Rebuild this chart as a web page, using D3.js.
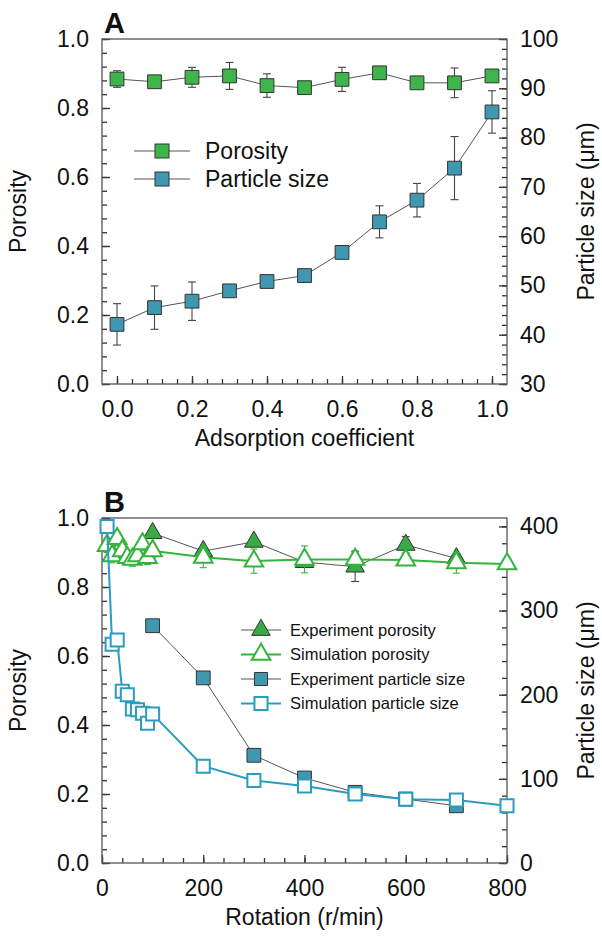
<!DOCTYPE html>
<html>
<head>
<meta charset="utf-8">
<script src="https://cdn.jsdelivr.net/npm/d3@7"></script>
<style>
  body { margin: 0; background: #fff; }
  svg text { font-family: "Liberation Sans", Arial, sans-serif; fill: #111; }
</style>
</head>
<body>
<svg id="chart" width="602" height="939"></svg>
<script>
// Panel A data
var coefA = [0, 0.1, 0.2, 0.3, 0.4, 0.5, 0.6, 0.7, 0.8, 0.9, 1.0];
var porosityA = [0.884, 0.876, 0.889, 0.893, 0.865, 0.859, 0.883, 0.902, 0.873, 0.873, 0.893];
var porosityErrA = [0.024, 0, 0.029, 0.039, 0.034, 0, 0.035, 0, 0, 0.043, 0];
var sizeA = [42.1, 45.5, 46.8, 48.9, 50.8, 52.0, 56.7, 62.9, 67.3, 73.8, 85.2];
var sizeErrA = [4.2, 4.4, 3.9, 0, 0, 0, 0, 3.25, 3.4, 6.4, 4.3];

// Panel B data
var rotExp = [100, 200, 300, 400, 500, 600, 700];
var porosityExp = [0.956, 0.904, 0.931, 0.872, 0.859, 0.922, 0.883];
var porosityExpErr = [0, 0, 0, 0, 0.043, 0.024, 0];
var sizeExp = [282, 220, 128, 101, 84, 76, 68];

var rotSim = [10, 20, 30, 40, 50, 60, 70, 80, 90, 100, 200, 300, 400, 500, 600, 700, 800];
var porositySim = [0.92, 0.89, 0.94, 0.905, 0.885, 0.88, 0.89, 0.925, 0.885, 0.905, 0.886, 0.875, 0.88, 0.88, 0.878, 0.87, 0.867];
var porositySimErr = [0.02, 0.02, 0.02, 0.02, 0.02, 0.02, 0.02, 0.02, 0.02, 0.02, 0.03, 0.035, 0.039, 0.025, 0, 0.03, 0.01];
var sizeSim = [400, 260, 265, 204, 200, 183, 182, 178, 166, 177, 115, 98, 91.5, 82, 75.7, 74.9, 68.1];

// tick labels
var porosityTicks = [0, 0.2, 0.4, 0.6, 0.8, 1.0];
var coefTicks = [0, 0.2, 0.4, 0.6, 0.8, 1.0];
var sizeTicksA = [30, 40, 50, 60, 70, 80, 90, 100];
var rotTicks = [0, 200, 400, 600, 800];
var sizeTicksB = [0, 100, 200, 300, 400];

var green = "#3db54a", teal = "#3f97b0", simGreen = "#35b43c", simTeal = "#2a9cc0", dark = "#333";

var svg = d3.select("#chart");

function range(a, b, s) {
  var out = [];
  for (var v = a; v <= b + 1e-9; v += s) out.push(+v.toFixed(4));
  return out;
}

// draws the frame, ticks and labels of one panel
function drawAxes(g, x, y, y2, o) {
  var w = x.range()[1], h = y.range()[0];

  g.append("g").attr("transform", "translate(0," + h + ")")
    .call(d3.axisBottom(x).tickValues(o.xMinor).tickSize(-5).tickFormat(""));
  g.append("g").attr("transform", "translate(0," + h + ")")
    .call(d3.axisBottom(x).tickValues(o.xTicks).tickSize(-8).tickPadding(17).tickFormat(o.xFmt));

  g.append("g").call(d3.axisLeft(y).tickValues(range(0, 1, 0.04)).tickSize(-5).tickFormat(""));
  g.append("g").call(d3.axisLeft(y).tickValues(porosityTicks).tickSize(-8).tickPadding(13).tickFormat(d3.format(".1f")));

  g.append("g").attr("transform", "translate(" + w + ",0)")
    .call(d3.axisRight(y2).tickValues(o.y2Minor).tickSize(-5).tickFormat(""));
  g.append("g").attr("transform", "translate(" + w + ",0)")
    .call(d3.axisRight(y2).tickValues(o.y2Ticks).tickSize(-8).tickPadding(13).tickFormat(d3.format("d")));

  g.selectAll(".domain").remove();
  g.selectAll(".tick line").attr("stroke", dark).attr("stroke-width", 1.3);
  g.selectAll(".tick text").style("font-size", "23px").attr("fill", "#111");

  g.append("rect").attr("width", w).attr("height", h)
    .attr("fill", "none").attr("stroke", "#555").attr("stroke-width", 1.3);

  g.append("text").attr("x", w / 2).attr("y", h + 62).attr("text-anchor", "middle")
    .style("font-size", "23px").text(o.xTitle);
  g.append("text").attr("transform", "translate(-84," + (h / 2) + ") rotate(-90)")
    .attr("text-anchor", "middle").attr("dy", "0.35em").style("font-size", "23px").text("Porosity");
  g.append("text").attr("transform", "translate(" + (w + 79) + "," + (h / 2) + ") rotate(-90)")
    .attr("text-anchor", "middle").attr("dy", "0.35em").style("font-size", "23px").text("Particle size (μm)");
  g.append("text").attr("x", 2).attr("y", -6).style("font-size", "29px").style("font-weight", "bold").text(o.label);
}

function errorBars(g, xs, ys, errs, x, y, color, cap) {
  var d = xs.map(function(v, i) { return {x: v, y: ys[i], e: errs[i]}; }).filter(function(p) { return p.e > 0; });
  var eb = g.append("g").attr("stroke", color).attr("stroke-width", 1.1);
  eb.selectAll(".v").data(d).enter().append("line")
    .attr("x1", function(p) { return x(p.x); }).attr("x2", function(p) { return x(p.x); })
    .attr("y1", function(p) { return y(p.y - p.e); }).attr("y2", function(p) { return y(p.y + p.e); });
  [-1, 1].forEach(function(s) {
    eb.selectAll(".c" + s).data(d).enter().append("line")
      .attr("x1", function(p) { return x(p.x) - cap; }).attr("x2", function(p) { return x(p.x) + cap; })
      .attr("y1", function(p) { return y(p.y + s * p.e); }).attr("y2", function(p) { return y(p.y + s * p.e); });
  });
}

function series(g, xs, ys, x, y, line, marker) {
  var pts = xs.map(function(v, i) { return [x(v), y(ys[i])]; });
  g.append("path").attr("d", d3.line()(pts)).attr("fill", "none")
    .attr("stroke", line.color).attr("stroke-width", line.width);
  var sym = d3.symbol().type(marker.type).size(marker.size);
  g.selectAll(null).data(pts).enter().append("path")
    .attr("transform", function(p) { return "translate(" + p[0] + "," + p[1] + ")"; })
    .attr("d", sym).attr("fill", marker.fill).attr("stroke", marker.stroke).attr("stroke-width", marker.sw);
}

// ---- Panel A ----
var gA = svg.append("g").attr("transform", "translate(102,39)");
var xA = d3.scaleLinear().domain([-0.04, 1.04]).range([0, 405]);
var yA = d3.scaleLinear().domain([0, 1]).range([345, 0]);
var y2A = d3.scaleLinear().domain([30, 100]).range([345, 0]);

drawAxes(gA, xA, yA, y2A, {
  xTicks: coefTicks, xMinor: range(0, 1, 0.04), xFmt: d3.format(".1f"),
  y2Ticks: sizeTicksA, y2Minor: range(30, 100, 2),
  xTitle: "Adsorption coefficient", label: "A"
});

errorBars(gA, coefA, porosityA, porosityErrA, xA, yA, "#444", 4);
series(gA, coefA, porosityA, xA, yA, {color: "#555", width: 1},
  {type: d3.symbolSquare, size: 190, fill: green, stroke: dark, sw: 1});
errorBars(gA, coefA, sizeA, sizeErrA, xA, y2A, "#444", 4);
series(gA, coefA, sizeA, xA, y2A, {color: "#555", width: 1},
  {type: d3.symbolSquare, size: 190, fill: teal, stroke: dark, sw: 1});

// legend A
var legA = [{name: "Porosity", fill: green}, {name: "Particle size", fill: teal}];
var lA = gA.append("g").attr("transform", "translate(32,112)");
legA.forEach(function(d, i) {
  var row = lA.append("g").attr("transform", "translate(0," + (i * 28) + ")");
  row.append("line").attr("x1", 0).attr("x2", 56).attr("stroke", "#555");
  row.append("rect").attr("x", 21).attr("y", -7).attr("width", 14).attr("height", 14)
    .attr("fill", d.fill).attr("stroke", dark);
  row.append("text").attr("x", 71).attr("dy", "0.35em").style("font-size", "23px").text(d.name);
});

// ---- Panel B ----
var gB = svg.append("g").attr("transform", "translate(102,518)");
var xB = d3.scaleLinear().domain([0, 800]).range([0, 405]);
var yB = d3.scaleLinear().domain([0, 1]).range([345, 0]);
var y2B = d3.scaleLinear().domain([0, 410]).range([345, 0]);

drawAxes(gB, xB, yB, y2B, {
  xTicks: rotTicks, xMinor: range(0, 800, 40), xFmt: d3.format("d"),
  y2Ticks: sizeTicksB, y2Minor: range(0, 400, 20),
  xTitle: "Rotation (r/min)", label: "B"
});

errorBars(gB, rotExp, porosityExp, porosityExpErr, xB, yB, "#444", 4);
series(gB, rotExp, porosityExp, xB, yB, {color: "#555", width: 1},
  {type: d3.symbolTriangle, size: 150, fill: "#3aaa44", stroke: dark, sw: 1});
errorBars(gB, rotSim, porositySim, porositySimErr, xB, yB, simGreen, 3.5);
series(gB, rotSim, porositySim, xB, yB, {color: simGreen, width: 2},
  {type: d3.symbolTriangle, size: 150, fill: "#fff", stroke: simGreen, sw: 2});
series(gB, rotExp, sizeExp, xB, y2B, {color: "#555", width: 1},
  {type: d3.symbolSquare, size: 190, fill: teal, stroke: dark, sw: 1});
series(gB, rotSim, sizeSim, xB, y2B, {color: simTeal, width: 2},
  {type: d3.symbolSquare, size: 170, fill: "#fff", stroke: simTeal, sw: 2});

// legend B
var legB = [
  {name: "Experiment porosity", type: d3.symbolTriangle, fill: "#3aaa44", stroke: dark, line: "#555", lw: 1, sw: 1},
  {name: "Simulation porosity", type: d3.symbolTriangle, fill: "#fff", stroke: simGreen, line: simGreen, lw: 2, sw: 2},
  {name: "Experiment particle size", type: d3.symbolSquare, fill: teal, stroke: dark, line: "#555", lw: 1, sw: 1},
  {name: "Simulation particle size", type: d3.symbolSquare, fill: "#fff", stroke: simTeal, line: simTeal, lw: 2, sw: 2}
];
var lB = gB.append("g").attr("transform", "translate(139,112)");
legB.forEach(function(d, i) {
  var row = lB.append("g").attr("transform", "translate(0," + (i * 24.5) + ")");
  row.append("line").attr("x1", 0).attr("x2", 40).attr("stroke", d.line).attr("stroke-width", d.lw);
  row.append("path").attr("transform", "translate(20,0)")
    .attr("d", d3.symbol().type(d.type).size(d.type === d3.symbolSquare ? 170 : 150)())
    .attr("fill", d.fill).attr("stroke", d.stroke).attr("stroke-width", d.sw);
  row.append("text").attr("x", 49).attr("dy", "0.35em").style("font-size", "16.5px").text(d.name);
});
</script>
</body>
</html>
